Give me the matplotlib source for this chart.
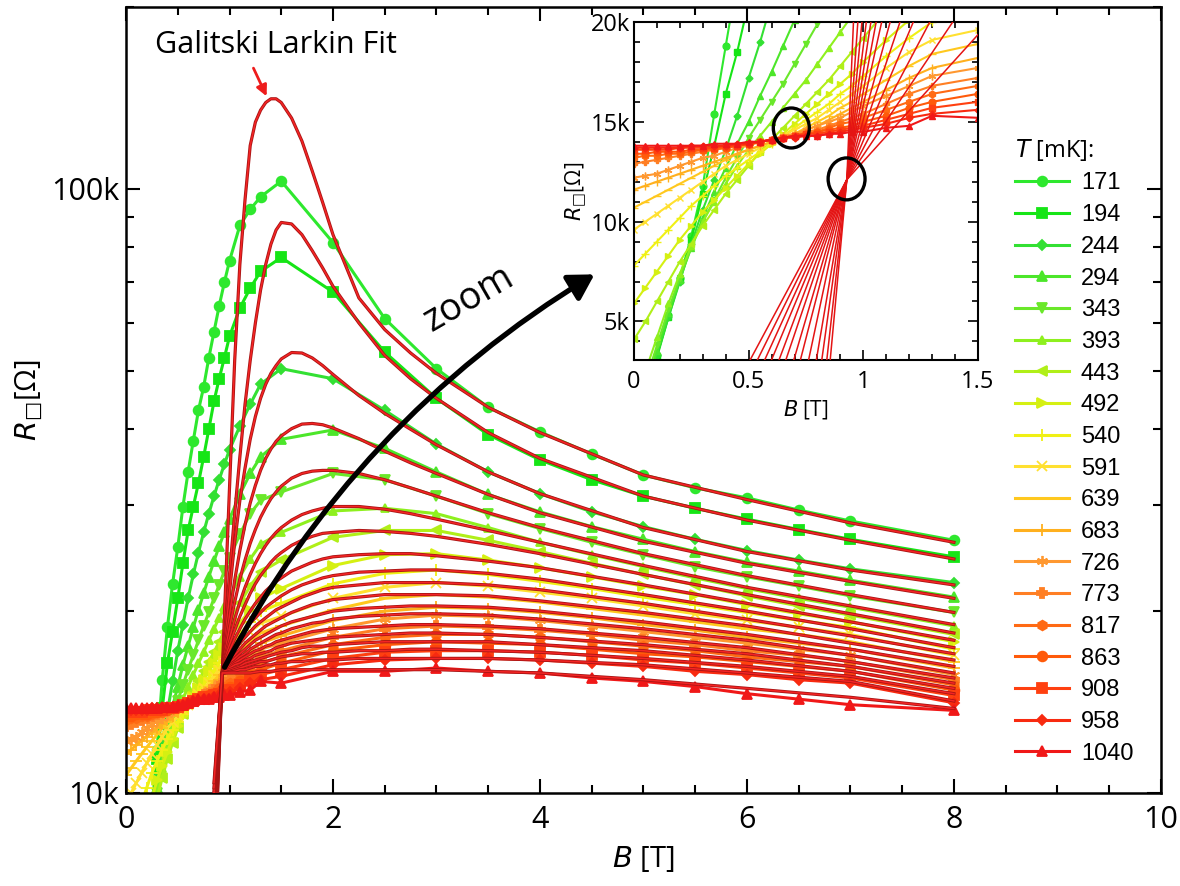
import numpy as np
import matplotlib
matplotlib.use("Agg")
import matplotlib.pyplot as plt
import matplotlib.patheffects as pe
from matplotlib.patches import Ellipse, FancyArrowPatch, ArrowStyle
from matplotlib.ticker import MultipleLocator, LogLocator, FixedLocator, FuncFormatter, NullFormatter

plt.rcParams['font.family'] = ['Open Sans', 'DejaVu Sans']
plt.rcParams['mathtext.fontset'] = 'dejavusans'

# temperatures in mK
TEMPS = [171, 194, 244, 294, 343, 393, 443, 492, 540, 591,
         639, 683, 726, 773, 817, 863, 908, 958, 1040]

# measured field points (T)
B_DATA = [0, 0.05, 0.1, 0.15, 0.2, 0.25, 0.3, 0.35, 0.4, 0.45, 0.5, 0.55,
          0.6, 0.65, 0.7, 0.75, 0.8, 0.85, 0.9, 0.95, 1.0, 1.1, 1.2, 1.3,
          1.5, 2, 2.5, 3, 3.5, 4, 4.5, 5, 5.5, 6, 6.5, 7, 8]

# sheet resistance in kOhm, one row per temperature
R_DATA = [
    [0.4, 1.4, 3.3, 5.3, 7.2, 9.3, 11.8, 15.4, 18.8, 22.2, 25.5, 29.8, 34.0, 38.3, 43.0, 47.0, 52.5, 58.0, 64.0, 70.0, 76.0, 87.0, 92.5, 97.0,
     103, 81.5, 61.0, 50.4, 43.5, 39.6, 36.4, 33.6, 32.0, 30.8, 29.4, 28.2, 26.2],
    [0.4, 1.4, 3.2, 5.2, 7.1, 9.1, 11.4, 13.8, 16.4, 18.5, 21.0, 24.0, 27.2, 29.8, 32.6, 36.0, 40.0, 44.5, 48.5, 52.5, 57.0, 63.5, 68.5, 73.0,
     77.0, 67.5, 53.7, 45.0, 39.2, 35.6, 33.0, 31.0, 29.6, 28.4, 27.3, 26.3, 24.6],
    [0.5, 1.5, 3.3, 5.2, 7.0, 8.9, 10.6, 12.1, 13.6, 15.3, 17.2, 19.0, 21.0, 23.0, 25.0, 27.0, 29.0, 31.0, 33.0, 35.0, 37.0, 40.5, 44.0, 47.5,
     50.4, 48.5, 43.0, 37.8, 34.0, 31.3, 29.2, 27.6, 26.3, 25.2, 24.3, 23.5, 22.3],
    [0.6, 1.7, 3.5, 5.4, 7.1, 8.7, 10.2, 11.5, 12.7, 13.9, 15.0, 16.3, 17.5, 18.8, 20.1, 21.4, 22.8, 24.2, 25.6, 27.0, 28.4, 31.2, 33.8, 36.0,
     38.5, 39.9, 37.2, 34.0, 31.2, 29.2, 27.6, 26.3, 25.1, 24.1, 23.3, 22.5, 21.1],
    [0.8, 2.0, 3.8, 5.6, 7.2, 8.7, 10.0, 11.1, 12.2, 13.2, 14.2, 15.1, 16.0, 16.9, 17.9, 18.9, 19.9, 21.0, 22.1, 23.3, 24.5, 26.8, 29.0, 30.5,
     31.5, 33.8, 33.0, 31.0, 29.0, 27.4, 26.0, 24.8, 23.7, 22.8, 22.0, 21.2, 19.9],
    [1.2, 2.5, 4.2, 5.9, 7.4, 8.8, 10.0, 11.0, 11.9, 12.8, 13.6, 14.3, 15.0, 15.7, 16.4, 17.1, 17.9, 18.7, 19.5, 20.3, 21.1, 22.8, 24.4, 25.8,
     27.0, 29.3, 29.6, 29.0, 27.5, 26.0, 24.8, 23.7, 22.7, 21.8, 21.0, 20.3, 18.9],
    [4.1, 5.0, 6.0, 7.0, 8.0, 8.9, 9.8, 10.6, 11.4, 12.1, 12.8, 13.5, 14.1, 14.7, 15.3, 15.9, 16.5, 17.1, 17.8, 18.5, 19.2, 20.6, 22.0, 23.2,
     24.3, 26.5, 27.2, 27.2, 26.2, 25.1, 24.0, 23.0, 22.1, 21.2, 20.4, 19.7, 18.3],
    [5.9, 6.7, 7.5, 8.3, 9.1, 9.8, 10.5, 11.1, 11.7, 12.3, 12.9, 13.4, 13.9, 14.4, 14.9, 15.4, 15.9, 16.4, 16.9, 17.4, 18.0, 19.1, 20.1, 21.0,
     21.8, 23.8, 24.8, 24.9, 24.3, 23.6, 22.8, 22.0, 21.3, 20.5, 19.8, 19.2, 17.8],
    [7.8, 8.4, 9.0, 9.6, 10.2, 10.8, 11.3, 11.8, 12.3, 12.7, 13.1, 13.5, 13.9, 14.3, 14.7, 15.1, 15.5, 15.9, 16.4, 16.8, 17.3, 18.3, 19.2, 20.0,
     20.6, 22.2, 23.1, 23.4, 23.0, 22.4, 21.8, 21.1, 20.5, 19.9, 19.3, 18.8, 17.3],
    [9.6, 10.0, 10.4, 10.8, 11.2, 11.6, 12.0, 12.4, 12.8, 13.1, 13.4, 13.7, 14.0, 14.3, 14.6, 14.9, 15.2, 15.6, 16.0, 16.4, 16.8, 17.7, 18.5, 19.1,
     19.6, 21.0, 21.9, 22.3, 22.0, 21.5, 21.0, 20.4, 19.8, 19.3, 18.8, 18.3, 16.9],
    [10.7, 11.0, 11.3, 11.6, 11.9, 12.2, 12.5, 12.8, 13.1, 13.4, 13.6, 13.8, 14.0, 14.2, 14.4, 14.7, 15.0, 15.3, 15.7, 16.0, 16.4, 17.1, 17.8, 18.4,
     18.9, 20.1, 21.0, 21.3, 21.1, 20.7, 20.2, 19.7, 19.2, 18.7, 18.3, 17.8, 16.5],
    [11.6, 11.8, 12.0, 12.2, 12.4, 12.6, 12.8, 13.0, 13.2, 13.4, 13.6, 13.8, 14.0, 14.2, 14.4, 14.6, 14.8, 15.1, 15.4, 15.7, 16.0, 16.6, 17.2, 17.7,
     18.2, 19.3, 20.0, 20.3, 20.2, 19.9, 19.5, 19.0, 18.6, 18.1, 17.7, 17.3, 16.1],
    [12.2, 12.3, 12.4, 12.6, 12.8, 13.0, 13.2, 13.3, 13.5, 13.7, 13.8, 14.0, 14.1, 14.3, 14.4, 14.6, 14.8, 15.0, 15.2, 15.5, 15.8, 16.3, 16.8, 17.3,
     17.7, 18.7, 19.4, 19.7, 19.6, 19.3, 18.9, 18.5, 18.1, 17.7, 17.3, 16.9, 15.7],
    [12.9, 13.0, 13.1, 13.2, 13.3, 13.4, 13.5, 13.6, 13.7, 13.8, 13.9, 14.0, 14.1, 14.2, 14.3, 14.5, 14.6, 14.8, 15.0, 15.2, 15.4, 15.9, 16.4, 16.8,
     17.2, 18.1, 18.7, 18.9, 18.8, 18.6, 18.3, 17.9, 17.6, 17.2, 16.9, 16.5, 15.4],
    [13.2, 13.3, 13.3, 13.4, 13.4, 13.5, 13.6, 13.6, 13.7, 13.8, 13.9, 14.0, 14.1, 14.2, 14.3, 14.4, 14.5, 14.7, 14.9, 15.0, 15.2, 15.6, 16.0, 16.4,
     16.8, 17.6, 18.1, 18.3, 18.3, 18.1, 17.8, 17.5, 17.2, 16.8, 16.5, 16.2, 15.1],
    [13.4, 13.4, 13.5, 13.5, 13.5, 13.6, 13.6, 13.7, 13.7, 13.8, 13.9, 14.0, 14.1, 14.2, 14.3, 14.4, 14.5, 14.6, 14.7, 14.8, 15.0, 15.3, 15.7, 16.0,
     16.4, 17.2, 17.6, 17.8, 17.7, 17.6, 17.3, 17.0, 16.8, 16.5, 16.2, 15.9, 14.8],
    [13.6, 13.6, 13.6, 13.6, 13.7, 13.7, 13.7, 13.7, 13.8, 13.8, 13.9, 14.0, 14.1, 14.2, 14.3, 14.4, 14.4, 14.5, 14.6, 14.7, 14.8, 15.1, 15.4, 15.7,
     16.0, 16.7, 17.1, 17.2, 17.2, 17.1, 16.9, 16.6, 16.4, 16.1, 15.8, 15.5, 14.5],
    [13.7, 13.7, 13.7, 13.7, 13.7, 13.8, 13.8, 13.8, 13.8, 13.9, 13.9, 14.0, 14.1, 14.2, 14.2, 14.3, 14.3, 14.4, 14.5, 14.6, 14.7, 14.9, 15.2, 15.4,
     15.6, 16.3, 16.6, 16.7, 16.7, 16.6, 16.4, 16.2, 15.9, 15.7, 15.4, 15.2, 14.1],
    [13.8, 13.8, 13.8, 13.8, 13.8, 13.8, 13.8, 13.9, 13.9, 13.9, 14.0, 14.0, 14.1, 14.2, 14.3, 14.3, 14.3, 14.4, 14.4, 14.5, 14.5, 14.7, 14.8, 15.3,
     15.2, 15.9, 15.9, 16.1, 15.9, 15.8, 15.5, 15.3, 15.0, 14.6, 14.3, 14.0, 13.7],
]

# Galitski-Larkin fit curves of the main panel (kOhm)
B_FIT = [0.85, 0.93, 0.95, 1.0, 1.05, 1.1, 1.15, 1.2, 1.25, 1.3, 1.35, 1.4, 1.45, 1.5,
         1.6, 1.7, 1.8, 1.9, 2.0, 2.25, 2.5, 2.75, 3.0, 3.5, 4.0, 5.0, 6.0, 7.0, 8.0]
R_FIT = [
    [7.0, 15.8, 19.5, 32, 52, 75, 96, 118, 129, 135, 139, 141, 141, 139, 131, 120, 107, 95, 84, 66, 58.5, 53.5, 49.5, 43.5, 39.5, 33.6, 30.6, 28.0, 26.0],
    [7.3, 15.8, 18.0, 23, 29, 36, 44, 52, 60, 68, 75, 81, 85.5, 88.0, 87.5, 84, 79, 74, 69, 60, 53, 48.5, 45, 39.5, 35.8, 31.0, 28.3, 26.2, 24.4],
    [7.6, 15.8, 17.3, 21.5, 26, 30.5, 34.5, 38.5, 42, 45, 47.5, 49.5, 51, 52.3, 53.6, 53.5, 52.5, 51, 49.3, 45.5, 42.5, 40.0, 37.7, 34.0, 31.3, 27.5, 25.1, 23.4, 22.1],
    [7.9, 15.8, 17.0, 19.7, 22.5, 25.2, 27.8, 30.2, 32.3, 34.2, 35.8, 37.1, 38.2, 39.0, 40.1, 40.8, 40.9, 40.7, 40.2, 38.6, 36.8, 35.2, 33.8, 31.2, 29.1, 26.1, 24.0, 22.4, 21.0],
    [8.2, 15.8, 16.8, 18.8, 20.7, 22.6, 24.3, 25.9, 27.3, 28.6, 29.7, 30.7, 31.5, 32.2, 33.2, 33.8, 34.1, 34.2, 34.2, 33.8, 33.0, 32.0, 31.0, 29.1, 27.5, 24.9, 22.9, 21.3, 19.9],
    [8.4, 15.8, 16.6, 18.0, 19.4, 20.7, 21.9, 23.0, 24.0, 24.9, 25.7, 26.4, 27.0, 27.5, 28.3, 28.9, 29.3, 29.6, 29.8, 29.8, 29.5, 29.0, 28.4, 27.2, 26.0, 23.8, 21.9, 20.4, 19.0],
    [8.6, 15.8, 16.5, 17.6, 18.6, 19.6, 20.5, 21.4, 22.2, 22.9, 23.5, 24.1, 24.6, 25.0, 25.7, 26.2, 26.6, 26.9, 27.0, 27.2, 27.1, 26.9, 26.6, 25.8, 24.9, 23.0, 21.3, 19.8, 18.4],
    [8.8, 15.8, 16.4, 17.2, 18.0, 18.7, 19.4, 20.0, 20.6, 21.1, 21.6, 22.0, 22.4, 22.7, 23.3, 23.7, 24.1, 24.4, 24.6, 24.8, 24.9, 24.9, 24.7, 24.2, 23.6, 22.1, 20.6, 19.2, 17.9],
    [9.0, 15.8, 16.3, 16.9, 17.5, 18.1, 18.6, 19.1, 19.5, 19.9, 20.3, 20.6, 20.9, 21.2, 21.7, 22.1, 22.4, 22.7, 22.9, 23.2, 23.3, 23.4, 23.4, 23.1, 22.6, 21.3, 20.0, 18.7, 17.4],
    [9.2, 15.8, 16.2, 16.7, 17.2, 17.7, 18.1, 18.5, 18.9, 19.2, 19.5, 19.8, 20.1, 20.3, 20.7, 21.1, 21.4, 21.7, 21.9, 22.1, 22.3, 22.3, 22.3, 22.1, 21.7, 20.6, 19.4, 18.2, 17.0],
    [9.3, 15.8, 16.1, 16.5, 16.9, 17.3, 17.7, 18.0, 18.3, 18.6, 18.9, 19.1, 19.3, 19.5, 19.9, 20.2, 20.5, 20.7, 20.9, 21.1, 21.3, 21.3, 21.3, 21.2, 20.8, 19.9, 18.9, 17.7, 16.6],
    [9.5, 15.8, 16.1, 16.4, 16.7, 17.0, 17.3, 17.6, 17.9, 18.1, 18.3, 18.5, 18.7, 18.9, 19.2, 19.4, 19.6, 19.8, 20.0, 20.2, 20.3, 20.4, 20.4, 20.3, 20.0, 19.2, 18.3, 17.3, 16.2],
    [9.6, 15.8, 16.0, 16.3, 16.5, 16.8, 17.0, 17.3, 17.5, 17.7, 17.9, 18.1, 18.3, 18.4, 18.7, 18.9, 19.1, 19.2, 19.4, 19.6, 19.7, 19.8, 19.8, 19.7, 19.4, 18.7, 17.9, 16.9, 15.8],
    [9.7, 15.8, 16.0, 16.2, 16.4, 16.6, 16.8, 17.0, 17.2, 17.3, 17.5, 17.6, 17.8, 17.9, 18.1, 18.3, 18.5, 18.6, 18.7, 18.8, 18.9, 19.0, 19.0, 18.9, 18.7, 18.1, 17.4, 16.5, 15.5],
    [9.8, 15.8, 15.9, 16.1, 16.3, 16.4, 16.6, 16.7, 16.9, 17.0, 17.1, 17.2, 17.4, 17.5, 17.7, 17.8, 17.9, 18.0, 18.1, 18.2, 18.3, 18.4, 18.4, 18.3, 18.1, 17.6, 17.0, 16.2, 15.2],
    [9.9, 15.8, 15.9, 16.0, 16.1, 16.2, 16.4, 16.5, 16.6, 16.7, 16.8, 16.9, 17.0, 17.1, 17.2, 17.4, 17.5, 17.5, 17.6, 17.7, 17.8, 17.8, 17.8, 17.8, 17.6, 17.2, 16.6, 15.9, 14.9],
    [10.0, 15.8, 15.8, 15.9, 16.0, 16.1, 16.2, 16.3, 16.4, 16.5, 16.5, 16.6, 16.7, 16.8, 16.9, 17.0, 17.0, 17.1, 17.1, 17.2, 17.2, 17.3, 17.3, 17.2, 17.1, 16.7, 16.2, 15.6, 14.6],
    [10.2, 15.8, 15.8, 15.85, 15.9, 16.0, 16.0, 16.1, 16.2, 16.2, 16.3, 16.3, 16.4, 16.4, 16.5, 16.5, 16.6, 16.6, 16.6, 16.7, 16.7, 16.7, 16.7, 16.7, 16.6, 16.3, 15.8, 15.3, 14.2],
    [10.4, 15.8, 15.8, 15.8, 15.8, 15.8, 15.8, 15.8, 15.85, 15.9, 15.9, 15.9, 15.95, 16.0, 16.0, 16.0, 16.0, 16.0, 16.0, 16.0, 16.0, 16.0, 16.0, 15.9, 15.8, 15.4, 14.9, 14.4, 13.8],
]

# fits in the zoomed panel: field where each one leaves the frame at 3 kOhm and 20 kOhm
INSET_FIT_B_LOW = [0.503, 0.535, 0.567, 0.597, 0.630, 0.660, 0.695, 0.724, 0.760, 0.794, 0.818, 0.840, 0.855]
INSET_FIT_B_HIGH = [1.55, 1.39, 1.29, 1.218, 1.16, 1.117, 1.080, 1.056, 1.033, 1.013, 0.994, 0.976, 0.957]
INSET_FIT_R = [3.0, 12.1, 20.0]
INSET_CROSS_B = 0.928

COLORS = ['#2ee82e', '#16e516', '#33e033', '#4ce62a', '#6ae82a', '#8ef01e', '#b0ef18',
          '#d5f012', '#f0f014', '#ffe030', '#ffc81e', '#ffb01e', '#ff9830', '#ff7f24',
          '#ff6a14', '#ff5a0a', '#ff4010', '#f82a10', '#f01818']
MARKERS = ['o', 's', 'D', '^', 'v', '^', '<', '>', '+', 'x', '_', '+', (6, 2, 0),
           'P', 'h', 'o', 's', 'D', '^']
MSIZE = [7, 7, 5, 7, 7, 6, 7, 7, 8, 7, 8, 8, 8, 7, 7, 7, 7, 5, 7]

R_LABEL = '$R_{\u25a1}$[\u03a9]'

fig = plt.figure(figsize=(11.8, 8.86), dpi=100)
ax = fig.add_axes([0.1068, 0.105, 0.877, 0.887])

fit_fx = [pe.Stroke(linewidth=2.3, foreground='#a81414'), pe.Normal()]
for i, t in enumerate(TEMPS):
    ax.plot(B_DATA, R_DATA[i], color=COLORS[i], marker=MARKERS[i], ms=MSIZE[i],
            mew=1.3, lw=2.2, label=str(t), zorder=2)
for i in range(len(TEMPS)):
    ax.plot(B_FIT, R_FIT[i], color='#f42424', lw=1.1, path_effects=fit_fx, zorder=3)

ax.set_yscale('log')
ax.set_xlim(0, 10)
ax.set_ylim(10, 200)
ax.xaxis.set_major_locator(MultipleLocator(2))
ax.xaxis.set_minor_locator(MultipleLocator(0.5))
ax.yaxis.set_major_locator(FixedLocator([10, 100]))
ax.yaxis.set_minor_locator(LogLocator(base=10, subs=np.arange(2, 10)))
ax.yaxis.set_major_formatter(FuncFormatter(lambda v, p: f"{v:g}k"))
ax.yaxis.set_minor_formatter(NullFormatter())
ax.tick_params(which='both', direction='in', top=True, right=True, width=1.5, labelsize=22)
ax.tick_params(which='major', length=10)
ax.tick_params(which='minor', length=6)
ax.tick_params(axis='x', pad=9)
ax.tick_params(axis='y', pad=5)
for s in ax.spines.values():
    s.set_linewidth(1.8)
ax.set_xlabel(r'$B$ [T]', fontsize=21, labelpad=6)
ax.set_ylabel(R_LABEL, fontsize=21, labelpad=4)

leg = ax.legend(loc='upper left', bbox_to_anchor=(1003 / 1180, 1 - 125 / 886),
                bbox_transform=fig.transFigure, frameon=False, fontsize=17,
                title=r'$T$ [mK]:', title_fontsize=17, alignment='left',
                handlelength=2.3, handletextpad=0.5, labelspacing=0.41, borderpad=0)
for txt in leg.get_texts():
    txt.set_family(['Liberation Sans', 'DejaVu Sans'])

# annotations
ax.annotate('', xy=(1.37, 141), xytext=(1.22, 160),
            arrowprops=dict(arrowstyle='-|>', color='#ee1c1c', lw=2, mutation_scale=16))
fig.text(155 / 1180, 1 - 45 / 886, 'Galitski Larkin Fit', fontsize=22, va='center', ha='left')
ax.text(3.31, 65.8, 'zoom', fontsize=27, rotation=30, ha='center', va='center')
arrow = FancyArrowPatch((0.94, 16.0), (4.55, 72.6), connectionstyle='arc3,rad=-0.14',
                        arrowstyle=ArrowStyle('-|>', head_length=0.6, head_width=0.35),
                        mutation_scale=25, lw=3.8, color='black', zorder=6)
ax.add_patch(arrow)

# zoomed inset
ins = fig.add_axes([0.5373, 0.5937, 0.2915, 0.3815])
ins.set_facecolor('white')
for i in range(len(TEMPS)):
    ins.plot(B_DATA, R_DATA[i], color=COLORS[i], marker=MARKERS[i], ms=MSIZE[i] * 0.7,
             mew=1, lw=1.5, zorder=2)
for lo, hi in zip(INSET_FIT_B_LOW, INSET_FIT_B_HIGH):
    ins.plot([lo, INSET_CROSS_B, hi], INSET_FIT_R, color='#e41414', lw=1.1, zorder=3)
ins.add_patch(Ellipse((0.686, 14.69), 0.157, 2.0, fill=False, lw=2.4, ec='black', zorder=5))
ins.add_patch(Ellipse((0.927, 12.14), 0.161, 2.1, fill=False, lw=2.4, ec='black', zorder=5))
ins.set_xlim(0, 1.5)
ins.set_ylim(3.07, 20)
ins.xaxis.set_major_locator(FixedLocator([0, 0.5, 1, 1.5]))
ins.xaxis.set_major_formatter(FuncFormatter(lambda v, p: f"{v:g}"))
ins.xaxis.set_minor_locator(MultipleLocator(0.1))
ins.yaxis.set_major_locator(FixedLocator([5, 10, 15, 20]))
ins.yaxis.set_major_formatter(FuncFormatter(lambda v, p: f"{v:g}k"))
ins.yaxis.set_minor_locator(MultipleLocator(1))
ins.tick_params(which='both', direction='in', top=True, right=True, width=1.2, labelsize=17)
ins.tick_params(which='major', length=7)
ins.tick_params(which='minor', length=4)
ins.tick_params(axis='x', pad=7)
ins.tick_params(axis='y', pad=3)
for s in ins.spines.values():
    s.set_linewidth(1.5)
ins.set_xlabel(r'$B$ [T]', fontsize=15, labelpad=3)
ins.set_ylabel(R_LABEL, fontsize=15, labelpad=1)

fig.savefig('out.png', dpi=100)
